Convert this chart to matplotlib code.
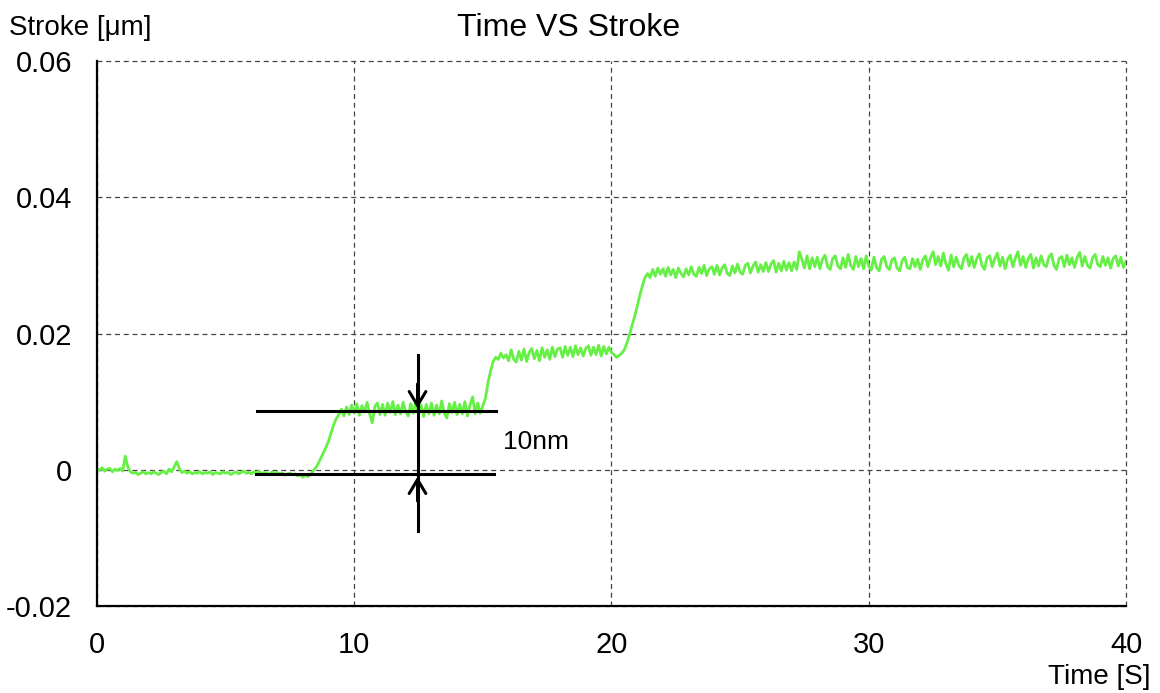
from matplotlib import pyplot as plt
import numpy as np

# Time VS Stroke - stroke samples every 0.1 s, in nm
stroke_nm = [
    0.2, -0.1, 0.3, -0.2, 0.1, 0.2, -0.3, 0.1, -0.1, 0.2,
    -0.2, 2.0, 0.4, -0.3, -0.5, -0.4, -0.7, -0.5, -0.3, -0.6,
    -0.4, -0.6, -0.3, -0.5, -0.7, -0.4, -0.2, -0.6, 0.1, -0.3,
    0.4, 1.2, 0.2, -0.4, -0.2, -0.5, -0.3, -0.6, -0.4, -0.5,
    -0.3, -0.6, -0.4, -0.5, -0.3, -0.7, -0.4, -0.5, -0.6, -0.3,
    -0.5, -0.4, -0.7, -0.5, -0.3, -0.6, -0.4, -0.2, -0.5, -0.4,
    -0.6, -0.3, -0.5, -0.2, -0.6, -0.4, -0.5, -0.7, -0.3, -0.5,
    -0.4, -0.6, -0.5, -0.8, -0.6, -0.5, -0.7, -0.6, -0.9, -0.7,
    -1.1, -0.8, -1.0, -0.7, -0.2, 0.3, 0.9, 1.7, 2.5, 3.3,
    4.2, 5.4, 6.6, 7.5, 8.1, 8.9, 7.9, 9.2, 8.1, 9.5,
    8.3, 9.7, 8.0, 9.4, 8.5, 9.9, 8.2, 6.9, 9.3, 9.8,
    8.1, 9.6, 8.0, 9.8, 8.4, 10.0, 8.1, 9.5, 8.2, 9.9,
    8.5, 7.9, 9.7, 8.3, 10.0, 8.0, 9.5, 7.8, 9.6, 8.2,
    9.8, 8.0, 9.5, 8.2, 10.1, 8.3, 7.6, 9.7, 8.4, 9.9,
    8.1, 9.6, 8.2, 10.0, 7.9, 9.5, 10.7, 8.2, 9.8, 8.3,
    9.4, 10.5, 12.8, 14.5, 15.9, 16.5, 16.2, 17.1, 16.4, 16.9,
    16.0, 17.6, 16.2, 15.8, 17.4, 16.1, 17.7, 15.9, 17.2, 17.8,
    16.3, 17.5, 16.0, 17.9, 16.5, 17.6, 16.2, 18.0, 16.6, 17.7,
    17.9, 16.5, 18.1, 16.8, 18.0, 16.6, 18.2, 16.9, 17.9, 16.7,
    17.8, 18.2, 16.8, 18.0, 16.9, 18.3, 16.7, 18.1, 17.0, 18.0,
    17.2, 16.9, 16.5, 16.8, 17.1, 17.6, 18.6, 19.8, 21.2, 22.5,
    24.0, 25.6, 27.0, 28.2, 28.8, 28.2, 29.4, 28.4, 29.6, 28.7,
    29.5, 28.4, 29.7, 28.6, 29.4, 28.2, 29.6, 28.8, 28.3, 29.5,
    28.6, 29.8, 28.7, 28.4, 29.7, 28.8, 30.0, 28.5, 29.5, 29.8,
    28.7, 30.0, 28.6, 29.6, 30.1, 28.8, 28.5, 29.9, 28.9, 30.2,
    29.0, 28.7, 30.0, 30.3, 28.9, 29.9, 30.5, 29.0, 30.1, 29.1,
    30.4, 29.1, 30.2, 30.7, 29.0, 30.3, 29.2, 30.6, 29.3, 30.4,
    29.2, 30.5, 29.4, 32.0, 30.9, 29.6, 31.4, 29.5, 31.1, 29.8,
    31.2, 29.5, 30.9, 31.5, 29.8, 29.4, 31.0, 31.4, 29.9, 29.5,
    31.1, 29.7, 31.6, 30.0, 29.4, 31.3, 29.8, 31.0, 29.5, 31.4,
    29.9, 29.3, 31.2, 29.7, 29.2, 30.9, 31.3, 29.8, 29.4, 30.8,
    31.1, 29.6, 29.2, 30.7, 31.2, 29.7, 29.5, 31.0, 29.8, 30.9,
    29.4, 30.8, 31.4, 29.8, 31.1, 32.0, 30.1, 31.3, 29.9, 31.8,
    30.2, 29.3, 31.5, 29.8, 31.2, 30.0, 29.5, 31.1, 31.6, 29.9,
    31.3, 29.7, 31.0, 31.7, 30.0, 29.4, 31.1, 31.4, 29.8, 31.0,
    31.8, 29.9, 31.2, 29.5, 30.9, 31.5, 29.8, 31.1, 32.0, 30.0,
    31.3, 29.7, 31.0, 31.6, 29.6, 31.1, 29.9, 31.4, 30.1, 29.8,
    31.2, 31.7, 30.0, 29.4, 31.0, 31.3, 29.8, 31.5, 30.1, 31.1,
    29.7, 31.2, 31.9, 29.9, 31.3, 30.0, 29.6, 31.1, 31.6, 30.1,
    29.8, 31.3, 30.0, 31.1, 29.6, 31.0, 31.4, 29.9, 31.2, 29.7,
    30.6,
]
time_s = np.linspace(0, 40, len(stroke_nm))
stroke_um = np.array(stroke_nm) / 1000.0

x_ticks = [0, 10, 20, 30, 40]
y_ticks = [-0.02, 0, 0.02, 0.04, 0.06]
y_tick_labels = ['-0.02', '0', '0.02', '0.04', '0.06']

# 10nm marker lines (µm)
step_low = -0.0006
step_high = 0.0086
marker_x = 12.46

plt.rcParams['font.family'] = ['Liberation Sans', 'DejaVu Sans']

fig = plt.figure(figsize=(11.6, 6.93), dpi=100)
ax = fig.add_axes([0.0836, 0.1255, 0.8871, 0.7865])

ax.plot(time_s, stroke_um, color='#66f046', linewidth=2.0)

# annotation: two horizontal lines, vertical line, arrow heads
ax.plot([6.23, 15.51], [step_high, step_high], color='black', linewidth=2.2)
ax.plot([6.18, 15.43], [step_low, step_low], color='black', linewidth=2.2)
ax.plot([marker_x, marker_x], [0.0168, -0.009], color='black', linewidth=2.2)
ax.annotate('', xy=(marker_x, step_high), xytext=(marker_x, 0.013),
            arrowprops=dict(arrowstyle='->,head_length=0.5,head_width=0.3',
                            color='black', lw=2.2, mutation_scale=20))
ax.annotate('', xy=(marker_x, step_low), xytext=(marker_x, -0.005),
            arrowprops=dict(arrowstyle='->,head_length=0.5,head_width=0.3',
                            color='black', lw=2.2, mutation_scale=20))
ax.text(15.8, 0.0041, '10nm', fontsize=19, va='center', ha='left')

ax.set_xlim(0, 40)
ax.set_ylim(-0.02, 0.06)
ax.set_xticks(x_ticks)
ax.set_yticks(y_ticks)
ax.set_yticklabels(y_tick_labels)
ax.tick_params(length=0, labelsize=21, pad=18)
ax.grid(True, color='#444444', linestyle=(0, (4, 3)), linewidth=0.9)
for gl in ax.get_xgridlines() + ax.get_ygridlines():
    gl.set_clip_on(False)

ax.spines['top'].set_visible(False)
ax.spines['right'].set_visible(False)
ax.spines['left'].set_linewidth(1.6)
ax.spines['bottom'].set_linewidth(1.6)

fig.text(0.008, 0.96, 'Stroke [μm]', fontsize=20, ha='left', va='center')
fig.text(0.49, 0.96, 'Time VS Stroke', fontsize=23, ha='center', va='center')
fig.text(0.992, 0.023, 'Time [S]', fontsize=20, ha='right', va='center')

plt.savefig('out.png', dpi=100)
